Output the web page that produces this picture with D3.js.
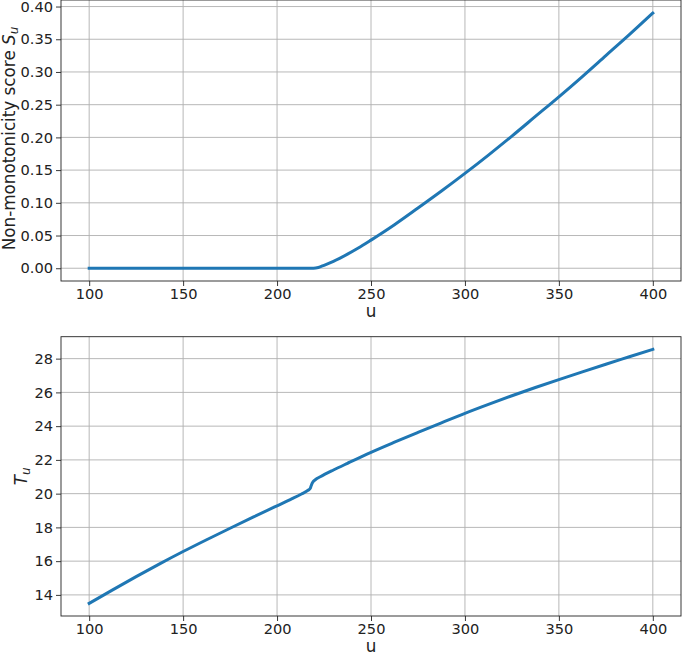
<!DOCTYPE html>
<html><head><meta charset="utf-8">
<script src="https://cdn.jsdelivr.net/npm/d3@7"></script>
<style>
body{margin:0;background:#fff;}
svg text{font-family:"DejaVu Sans",sans-serif;fill:#222;}
</style></head><body>
<svg id="c" width="682" height="652"></svg>
<script>
// Top panel: non-monotonicity score S_u
const uTop = [100,150,200,210,216,219.4,222,225,230,237.5,243,250,262.5,275,287.5,300,312.5,325,337.5,350,362.5,375,387.5,400];
const sTop = [0,0,0,0,0,0,0.0012,0.0045,0.0105,0.0215,0.0305,0.043,0.0665,0.092,0.118,0.145,0.173,0.202,0.232,0.262,0.293,0.325,0.357,0.39];
// Bottom panel: T_u
const uBot = [100,112.5,125,137.5,150,162.5,175,187.5,200,208,213,216.5,217.6,218.1,218.6,219.2,220.5,223,230,237.5,250,262.5,275,287.5,300,312.5,325,337.5,350,362.5,375,387.5,400];
const tBot = [13.5,14.3,15.08,15.84,16.57,17.27,17.95,18.62,19.28,19.7,19.98,20.2,20.3,20.45,20.6,20.71,20.84,21.0,21.4,21.8,22.45,23.05,23.63,24.2,24.76,25.29,25.8,26.29,26.76,27.22,27.67,28.11,28.55];
const xTicks = [100,150,200,250,300,350,400];
const yTicksTop = [0,0.05,0.10,0.15,0.20,0.25,0.30,0.35,0.40];
const yTicksBot = [14,16,18,20,22,24,26,28];

const svg = d3.select("#c");
const L = 61, R = 681;
const panels = [
  {top:0, bottom:281, ydom:[-0.0195,0.41], xs:uTop, ys:sTop, yt:yTicksTop, fmt:d3.format(".2f"), lab:"top", xl:36},
  {top:336.7, bottom:616, ydom:[12.75,29.3], xs:uBot, ys:tBot, yt:yTicksBot, fmt:d3.format("d"), lab:"bot", xl:35.5}
];
panels.forEach(p=>{
  const x = d3.scaleLinear().domain([85,415]).range([L,R]);
  const y = d3.scaleLinear().domain(p.ydom).range([p.bottom,p.top]);
  const g = svg.append("g");
  // grid
  g.append("g").selectAll("line").data(xTicks).join("line")
    .attr("x1",d=>x(d)).attr("x2",d=>x(d)).attr("y1",p.top).attr("y2",p.bottom)
    .attr("stroke","#b0b0b0").attr("stroke-width",0.9);
  g.append("g").selectAll("line").data(p.yt).join("line")
    .attr("y1",d=>y(d)).attr("y2",d=>y(d)).attr("x1",L).attr("x2",R)
    .attr("stroke","#b0b0b0").attr("stroke-width",0.9);
  // line
  const line = d3.line().x((d,i)=>x(p.xs[i])).y(d=>y(d)).curve(d3.curveMonotoneX);
  g.append("path").datum(p.ys).attr("d",line).attr("fill","none")
    .attr("stroke","#1f77b4").attr("stroke-width",3).attr("stroke-linecap","square");
  // axes
  const xa = g.append("g").attr("transform",`translate(0,${p.bottom})`)
    .call(d3.axisBottom(x).tickValues(xTicks).tickSize(5).tickPadding(3).tickFormat(d3.format("d")));
  const ya = g.append("g").attr("transform",`translate(${L},0)`)
    .call(d3.axisLeft(y).tickValues(p.yt).tickSize(5).tickPadding(3).tickFormat(p.fmt));
  [xa,ya].forEach(a=>{
    a.select(".domain").remove();
    a.selectAll("text").attr("font-size","14.6px").attr("font-family","DejaVu Sans").attr("fill","#222");
    a.selectAll(".tick line").attr("stroke","#222").attr("stroke-width",0.9);
  });
  // frame
  g.append("rect").attr("x",L).attr("y",p.top).attr("width",R-L).attr("height",p.bottom-p.top)
    .attr("fill","none").attr("stroke","#222").attr("stroke-width",0.9);
  // x label
  g.append("text").attr("x",(L+R)/2).attr("y",p.bottom+p.xl).attr("text-anchor","middle")
    .attr("font-size","16.8px").text("u");
  // y label
  const mid = (p.top+p.bottom)/2;
  if (p.lab==="top"){
    const t = g.append("text").attr("transform",`translate(14.5,${mid-2}) rotate(-90)`)
      .attr("text-anchor","middle").attr("font-size","16.8px");
    t.append("tspan").text("Non-monotonicity score ");
    t.append("tspan").attr("font-style","italic").text("S");
    t.append("tspan").attr("font-style","italic").attr("font-size","12px").attr("dy","3").text("u");
  } else {
    const t = g.append("text").attr("transform",`translate(27,${mid}) rotate(-90)`)
      .attr("text-anchor","middle").attr("font-size","16.8px");
    t.append("tspan").attr("font-style","italic").text("T");
    t.append("tspan").attr("font-style","italic").attr("font-size","12px").attr("dy","3").text("u");
  }
});
</script></body></html>
